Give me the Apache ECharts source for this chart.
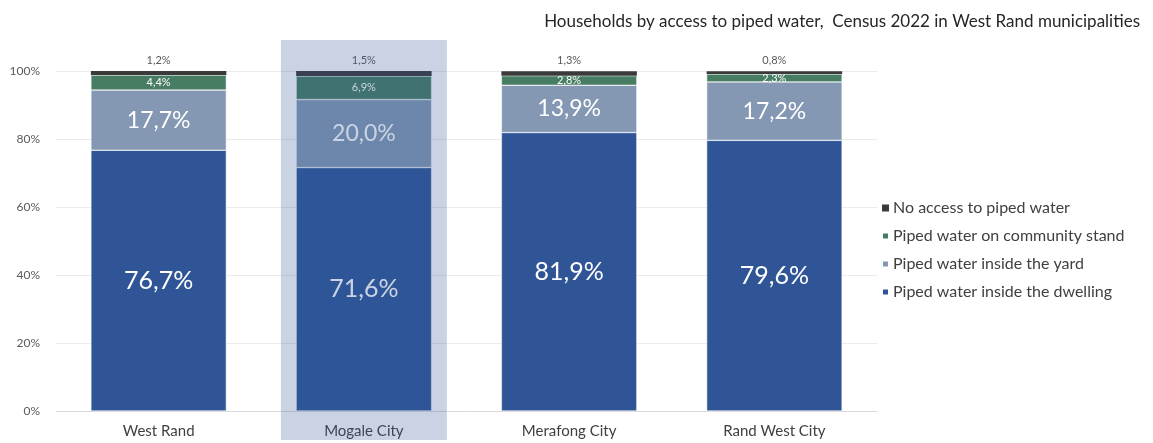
<!DOCTYPE html>
<html>
<head>
<meta charset="utf-8">
<script src="https://cdn.jsdelivr.net/npm/echarts@6/dist/echarts.min.js"></script>
<style>
  html, body { margin: 0; padding: 0; background: #fff; }
  #chart { width: 1153px; height: 443px; }
</style>
</head>
<body>
<div id="chart"></div>
<script>
// data
const categories = ['West Rand', 'Mogale City', 'Merafong City', 'Rand West City'];
const dwelling = [76.7, 71.6, 81.9, 79.6];
const yard = [17.7, 20.0, 13.9, 17.2];
const community = [4.4, 6.9, 2.8, 2.3];
const noAccess = [1.2, 1.5, 1.3, 0.8];
const yTicks = [0, 20, 40, 60, 80, 100];
const highlighted = 'Mogale City';

const fmt = p => p.value.toFixed(1).replace('.', ',') + '%';
const font = 'Lato, "Open Sans", sans-serif';

const chart = echarts.init(document.getElementById('chart'));

const option = {
  animation: false,
  textStyle: { fontFamily: font },
  title: {
    text: 'Households by access to piped water,  Census 2022 in West Rand municipalities',
    right: 8, top: 8,
    textStyle: { fontSize: 17, fontWeight: 'normal', color: '#262626', fontFamily: font }
  },
  legend: {
    orient: 'vertical',
    left: 876, top: 195,
    itemWidth: 7, itemHeight: 7, itemGap: 12,
    icon: 'rect',
    data: ['No access to piped water', 'Piped water on community stand', 'Piped water inside the yard', 'Piped water inside the dwelling'],
    textStyle: { fontSize: 16, color: '#404040', fontFamily: font, padding: [0, 0, 0, -1] }
  },
  grid: { left: 56, right: 276, top: 71, bottom: 32 },
  xAxis: {
    type: 'category',
    data: categories,
    axisLine: { lineStyle: { color: '#d9d9d9' } },
    axisTick: { show: false },
    axisLabel: { fontSize: 15, color: '#404040', margin: 13 }
  },
  yAxis: {
    type: 'value',
    min: yTicks[0], max: yTicks[yTicks.length - 1], interval: 20,
    axisLabel: { formatter: '{value}%', fontSize: 12, color: '#595959', margin: 16 },
    splitLine: { lineStyle: { color: '#ebebeb' } }
  },
  series: [
    {
      name: 'Piped water inside the dwelling', type: 'bar', stack: 'a', data: dwelling,
      barWidth: '66%',
      itemStyle: { color: '#2f5597', borderColor: '#fff', borderWidth: 0.5 },
      label: { show: true, position: 'inside', formatter: fmt, fontSize: 25, color: '#fff' }
    },
    {
      name: 'Piped water inside the yard', type: 'bar', stack: 'a', data: yard,
      itemStyle: { color: '#8497b3', borderColor: '#fff', borderWidth: 0.5 },
      label: { show: true, position: 'inside', formatter: fmt, fontSize: 23, color: '#fff' }
    },
    {
      name: 'Piped water on community stand', type: 'bar', stack: 'a', data: community,
      itemStyle: { color: '#467d63', borderColor: '#fff', borderWidth: 0.5 },
      label: { show: true, position: 'inside', formatter: fmt, fontSize: 11, color: '#fff' }
    },
    {
      name: 'No access to piped water', type: 'bar', stack: 'a', data: noAccess,
      itemStyle: { color: '#3a3a3a' },
      label: { show: true, position: 'top', distance: 5, formatter: fmt, fontSize: 11, color: '#595959' }
    }
  ]
};

chart.setOption(option);

// translucent highlight box over the selected municipality
const cx = chart.convertToPixel({ xAxisIndex: 0 }, highlighted);
chart.setOption({
  graphic: [{
    type: 'rect',
    silent: true,
    z: 100,
    shape: { x: cx - 83, y: 40, width: 166, height: 400 },
    style: { fill: 'rgba(47,85,151,0.26)' }
  }]
});
</script>
</body>
</html>
